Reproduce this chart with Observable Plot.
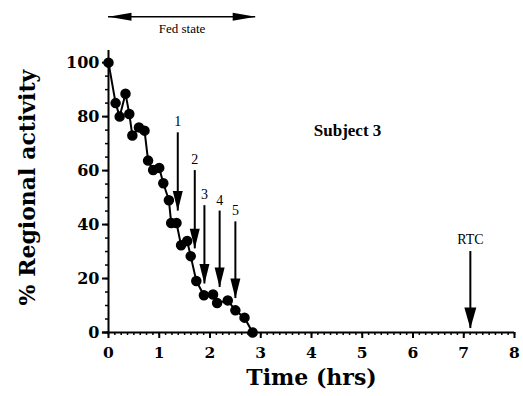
<!DOCTYPE html>
<html>
<head>
<meta charset="utf-8">
<script src="https://cdn.jsdelivr.net/npm/d3@7"></script>
<script src="https://cdn.jsdelivr.net/npm/@observablehq/plot@0.6"></script>
<style>
  html, body { margin: 0; padding: 0; background: #fff; }
  svg { display: block; }
</style>
</head>
<body>
<div id="chart"></div>
<script>
// Data
const time = [0, 0.14, 0.22, 0.335, 0.41, 0.47, 0.6, 0.71, 0.78, 0.88, 1.0, 1.08, 1.19, 1.235, 1.34, 1.43, 1.55, 1.62, 1.73, 1.88, 2.06, 2.14, 2.35, 2.5, 2.68, 2.84];
const activity = [100, 85, 80, 88.5, 81, 73, 76, 74.8, 63.7, 60.2, 61, 55.3, 49, 40.6, 40.6, 32.3, 33.9, 28.3, 19.1, 13.8, 14.1, 10.9, 11.9, 8.2, 5.5, 0];

const arrowLabels = ["1", "2", "3", "4", "5"];
const arrowTime = [1.365, 1.70, 1.89, 2.19, 2.50];
const arrowTop = [74, 60, 47, 45, 41];
const arrowTip = [45, 31, 18, 16.7, 12.6];

const rtcLabel = ["RTC"];
const rtcTime = [7.13];
const rtcTop = [30];
const rtcTip = [1.5];

const fedLabel = ["Fed state"];
const fedStart = [0];
const fedEnd = [2.9];
const fedLevel = [117];

const subjectLabel = ["Subject 3"];
const subjectTime = [4.71];
const subjectLevel = [75];

const xMajor = [0, 1, 2, 3, 4, 5, 6, 7, 8];
const yMajor = [0, 20, 40, 60, 80, 100];

const xMinor = d3.range(0, 8.0001, 0.125);
const yMinor = d3.range(0, 100.001, 5);

const points = time.map((t, i) => ({t, v: activity[i]}));
const arrows = arrowLabels.map((l, i) => ({l, t: arrowTime[i], top: arrowTop[i], tip: arrowTip[i]}));
const rtc = rtcLabel.map((l, i) => ({l, t: rtcTime[i], top: rtcTop[i], tip: rtcTip[i]}));
const fed = fedLabel.map((l, i) => ({l, a: fedStart[i], b: fedEnd[i], y: fedLevel[i]}));
const subject = subjectLabel.map((l, i) => ({l, t: subjectTime[i], v: subjectLevel[i]}));

// custom arrowhead symbols (tip at origin)
const downHead = (len, w) => ({draw(ctx) { ctx.moveTo(0, 0); ctx.lineTo(-w / 2, -len); ctx.lineTo(w / 2, -len); ctx.closePath(); }});
const leftHead = {draw(ctx) { ctx.moveTo(0, 0); ctx.lineTo(23, -4); ctx.lineTo(23, 4); ctx.closePath(); }};
const rightHead = {draw(ctx) { ctx.moveTo(0, 0); ctx.lineTo(-23, -4); ctx.lineTo(-23, 4); ctx.closePath(); }};

const bold = "'DejaVu Serif', serif";
const times = "'Liberation Serif', 'Times New Roman', serif";

const chart = Plot.plot({
  width: 523,
  height: 396,
  marginLeft: 108,
  marginRight: 9,
  marginTop: 50,
  marginBottom: 64,
  x: {domain: [0, 8]},
  y: {domain: [0, 104.5]},
  style: {fontFamily: bold, background: "#fff", color: "#000"},
  marks: [
    // axis lines
    Plot.ruleX([0], {y1: 0, y2: 104.5, stroke: "#000", strokeWidth: 2}),
    Plot.ruleY([0], {x1: -0.12, x2: 8, stroke: "#000", strokeWidth: 2}),
    // minor ticks
    Plot.axisY(yMinor, {tickSize: 3, text: null, label: null, strokeWidth: 1.5}),
    Plot.axisX(xMinor, {tickSize: 3, text: null, label: null, strokeWidth: 1.5}),
    // major ticks and labels
    Plot.axisY(yMajor, {tickSize: 6, tickPadding: 3, label: null, fontSize: 16, fontWeight: "bold", strokeWidth: 2}),
    Plot.axisX(xMajor, {tickSize: 6, tickPadding: 8, label: null, fontSize: 15.5, fontWeight: "bold", strokeWidth: 2}),
    // axis titles
    Plot.text(["Time (hrs)"], {frameAnchor: "bottom", dy: 52, fontSize: 22, fontWeight: "bold", fontFamily: bold}),
    Plot.text(["% Regional activity"], {frameAnchor: "left", textAnchor: "middle", dx: -81, dy: -4, rotate: -90, fontSize: 22, fontWeight: "bold", fontFamily: bold}),
    // data
    Plot.line(points, {x: "t", y: "v", stroke: "#000", strokeWidth: 2}),
    Plot.dot(points, {x: "t", y: "v", r: 4.5, fill: "#000", stroke: "#000"}),
    // numbered arrows
    Plot.ruleX(arrows, {x: "t", y1: "top", y2: "tip", stroke: "#000", strokeWidth: 2}),
    Plot.dot(arrows, {x: "t", y: "tip", symbol: downHead(20, 10), fill: "#000", stroke: "none"}),
    Plot.text(arrows, {x: "t", y: "top", text: "l", dy: -11, fontSize: 14, fontFamily: times}),
    // RTC arrow
    Plot.ruleX(rtc, {x: "t", y1: "top", y2: "tip", stroke: "#000", strokeWidth: 2}),
    Plot.dot(rtc, {x: "t", y: "tip", symbol: downHead(21, 12), fill: "#000", stroke: "none"}),
    Plot.text(rtc, {x: "t", y: "top", text: "l", dy: -12, fontSize: 14, fontFamily: times}),
    // Fed state double arrow
    Plot.ruleY(fed, {y: "y", x1: "a", x2: "b", stroke: "#000", strokeWidth: 1.5}),
    Plot.dot(fed, {x: "a", y: "y", symbol: leftHead, fill: "#000", stroke: "none"}),
    Plot.dot(fed, {x: "b", y: "y", symbol: rightHead, fill: "#000", stroke: "none"}),
    Plot.text(fed, {x: (d) => (d.a + d.b) / 2, y: "y", text: "l", dy: 12, fontSize: 13, fontFamily: times}),
    // subject label
    Plot.text(subject, {x: "t", y: "v", text: "l", fontSize: 17, fontWeight: "bold", fontFamily: times})
  ]
});
document.getElementById("chart").appendChild(chart);
</script>
</body>
</html>
